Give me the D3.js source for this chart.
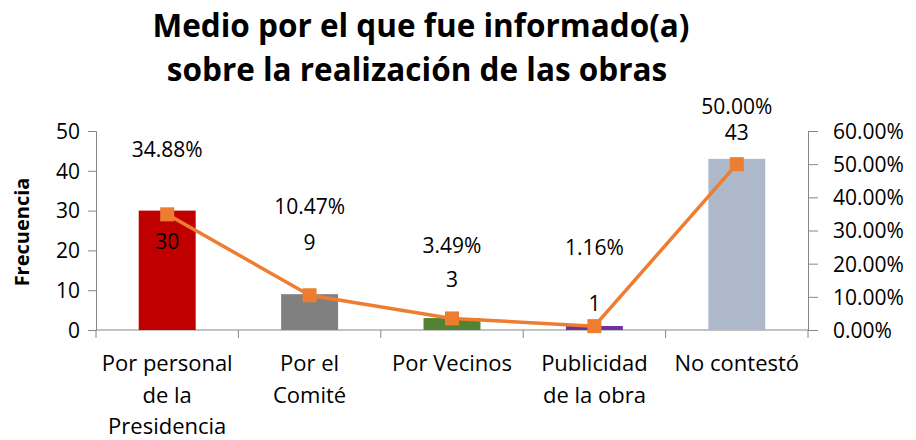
<!DOCTYPE html>
<html>
<head>
<meta charset="utf-8">
<script src="https://cdn.jsdelivr.net/npm/d3@7"></script>
<style>
  body { margin: 0; background: #fff; }
  svg text { font-family: "Open Sans", sans-serif; fill: #000; }
  .axis path, .axis line { stroke: #868686; }
</style>
</head>
<body>
<div class="chart_wrapper"></div>
<script>
// data
const categories = [
  ["Por personal", "de la", "Presidencia"],
  ["Por el", "Comité"],
  ["Por Vecinos"],
  ["Publicidad", "de la obra"],
  ["No contestó"]
]
const counts = [30, 9, 3, 1, 43]
const percents = [34.88, 10.47, 3.49, 1.16, 50.00]
const barColors = ["#C00000", "#808080", "#548235", "#7030A0", "#ADB9CA"]
const leftTicks = [0, 10, 20, 30, 40, 50]
const rightTicks = [0, 10, 20, 30, 40, 50, 60]

// label placement (px from the mark), as in the original sheet
const countLabelShift = [31, -52, -38, -22, -26]
const pctLabelShift = [-65, -89, -73, -79, -58]

function drawChart () {
  const dimensions = {
    width: 916,
    height: 440,
    margin: { top: 131, right: 108, bottom: 110, left: 96 }
  }
  dimensions.boundedWidth = dimensions.width - dimensions.margin.left - dimensions.margin.right
  dimensions.boundedHeight = dimensions.height - dimensions.margin.top - dimensions.margin.bottom

  const svg = d3.select(".chart_wrapper")
    .append("svg")
      .attr("width", dimensions.width)
      .attr("height", dimensions.height)

  // title
  const title = svg.append("text")
    .attr("text-anchor", "middle")
    .style("font-weight", "bold")
    .style("font-size", "31.5px")
  title.append("tspan").attr("x", 421).attr("y", 37).text("Medio por el que fue informado(a)")
  title.append("tspan").attr("x", 417).attr("y", 81).text("sobre la realización de las obras")

  const bounds = svg.append("g")
    .attr("transform", `translate(${dimensions.margin.left},${dimensions.margin.top})`)

  const xScale = d3.scaleBand()
    .domain(d3.range(counts.length))
    .range([0, dimensions.boundedWidth])
    .paddingInner(0.6)
    .paddingOuter(0.3)

  const yScale = d3.scaleLinear()
    .domain([0, 50])
    .range([dimensions.boundedHeight, 0])

  const pctScale = d3.scaleLinear()
    .domain([0, 60])
    .range([dimensions.boundedHeight, 0])

  const step = dimensions.boundedWidth / counts.length
  const center = i => xScale(i) + xScale.bandwidth() / 2

  // left axis
  const yAxis = d3.axisLeft(yScale).tickValues(leftTicks).tickSize(8).tickPadding(8)
  bounds.append("g")
    .attr("class", "axis")
    .call(yAxis)
    .call(g => g.selectAll("text").style("font-size", "21px").attr("dy", "0.35em"))

  // right axis
  const rAxis = d3.axisRight(pctScale).tickValues(rightTicks).tickSize(10).tickPadding(15)
    .tickFormat(d => d3.format(".2f")(d) + "%")
  bounds.append("g")
    .attr("class", "axis")
    .attr("transform", `translate(${dimensions.boundedWidth},0)`)
    .call(rAxis)
    .call(g => g.selectAll("text").style("font-size", "21px").attr("dy", "0.35em"))

  // x axis line and boundary ticks
  const xAxisG = bounds.append("g")
    .attr("class", "axis")
    .attr("transform", `translate(0,${dimensions.boundedHeight})`)
  xAxisG.append("line")
    .attr("x1", 0).attr("x2", dimensions.boundedWidth)
  xAxisG.selectAll(".xtick")
    .data(d3.range(counts.length + 1))
    .enter().append("line")
      .attr("class", "xtick")
      .attr("x1", d => d * step).attr("x2", d => d * step)
      .attr("y1", 0).attr("y2", 8)

  // category labels
  xAxisG.selectAll(".xlabel")
    .data(categories)
    .enter().append("text")
      .attr("class", "xlabel")
      .attr("text-anchor", "middle")
      .style("font-size", "22px")
      .each(function (lines, i) {
        d3.select(this).selectAll("tspan")
          .data(lines)
          .enter().append("tspan")
            .attr("x", center(i))
            .attr("y", (d, j) => 41 + j * 31.5)
            .text(d => d)
      })

  // bars
  bounds.selectAll(".bar")
    .data(counts)
    .enter().append("rect")
      .attr("class", "bar")
      .attr("x", (d, i) => xScale(i))
      .attr("y", d => yScale(d))
      .attr("width", xScale.bandwidth())
      .attr("height", d => dimensions.boundedHeight - yScale(d))
      .attr("fill", (d, i) => barColors[i])

  // percent line
  const line = d3.line()
    .x((d, i) => center(i))
    .y(d => pctScale(d))
  bounds.append("path")
    .datum(percents)
    .attr("d", line)
    .attr("fill", "none")
    .attr("stroke", "#ED7D31")
    .attr("stroke-width", 3.5)
    .attr("stroke-linejoin", "round")

  bounds.selectAll(".marker")
    .data(percents)
    .enter().append("rect")
      .attr("class", "marker")
      .attr("x", (d, i) => center(i) - 7)
      .attr("y", d => pctScale(d) - 7)
      .attr("width", 14)
      .attr("height", 14)
      .attr("fill", "#ED7D31")

  // count labels
  bounds.selectAll(".countLabel")
    .data(counts)
    .enter().append("text")
      .attr("class", "countLabel")
      .attr("x", (d, i) => center(i))
      .attr("y", (d, i) => yScale(d) + countLabelShift[i])
      .attr("dy", "0.35em")
      .attr("text-anchor", "middle")
      .style("font-size", "21px")
      .text(d => d)

  // percent labels
  bounds.selectAll(".pctLabel")
    .data(percents)
    .enter().append("text")
      .attr("class", "pctLabel")
      .attr("x", (d, i) => center(i))
      .attr("y", (d, i) => pctScale(d) + pctLabelShift[i])
      .attr("dy", "0.35em")
      .attr("text-anchor", "middle")
      .style("font-size", "21px")
      .text(d => d3.format(".2f")(d) + "%")

  // y axis title
  svg.append("text")
    .attr("transform", "translate(29,232) rotate(-90)")
    .attr("text-anchor", "middle")
    .style("font-weight", "bold")
    .style("font-size", "20px")
    .text("Frecuencia")
}
drawChart()
</script>
</body>
</html>
